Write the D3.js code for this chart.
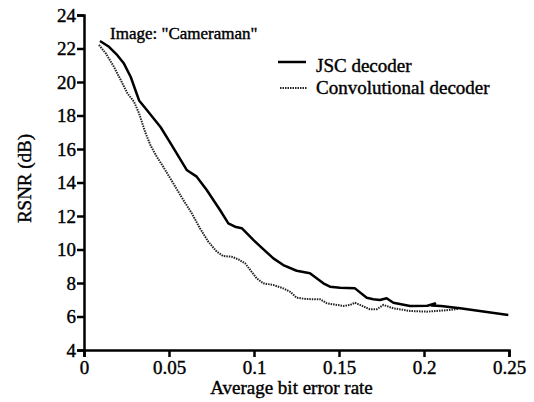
<!DOCTYPE html>
<html>
<head>
<meta charset="utf-8">
<script src="https://cdn.jsdelivr.net/npm/d3@7"></script>
<style>
  body { margin: 0; background: #fff; }
</style>
</head>
<body>
<script>
const svgWidth = 534
const svgHeight = 402

const margin = { top: 15, right: 25, bottom: 52, left: 84 }
const chartWidth = svgWidth - margin.left - margin.right
const chartHeight = svgHeight - margin.top - margin.bottom

const fontFamily = "'Liberation Serif', 'Times New Roman', serif"

// JSC decoder (solid)
const berJsc = [0.0094, 0.0147, 0.0196, 0.0235, 0.0275, 0.0310, 0.0324, 0.0372, 0.0451, 0.0506,
    0.0604, 0.0663, 0.0722, 0.0800, 0.0849, 0.0888, 0.0928, 0.0996, 0.1035, 0.1114,
    0.1172, 0.1251, 0.1329, 0.1408, 0.1447, 0.1506, 0.1594, 0.1663, 0.1702, 0.1741,
    0.1780, 0.1820, 0.1918, 0.2020, 0.2065, 0.2045, 0.2100, 0.2212, 0.2496]
const rsnrJsc = [22.45, 22.10, 21.60, 21.10, 20.30, 19.30, 18.90, 18.30, 17.30, 16.40,
    14.75, 14.35, 13.55, 12.36, 11.56, 11.36, 11.27, 10.57, 10.20, 9.47,
    9.07, 8.73, 8.58, 7.98, 7.78, 7.72, 7.68, 7.12, 7.03, 6.99,
    7.09, 6.82, 6.63, 6.64, 6.78, 6.66, 6.62, 6.49, 6.09]

// Convolutional decoder (dotted)
const berConv = [0.0088, 0.0128, 0.0176, 0.0216, 0.0255, 0.0294, 0.0324, 0.0360, 0.0392, 0.0428,
    0.0466, 0.0525, 0.0584, 0.0634, 0.0682, 0.0731, 0.0781, 0.0819, 0.0869, 0.0908,
    0.0947, 0.0986, 0.1016, 0.1055, 0.1114, 0.1172, 0.1212, 0.1251, 0.1310, 0.1388,
    0.1428, 0.1525, 0.1565, 0.1594, 0.1624, 0.1682, 0.1722, 0.1761, 0.1820, 0.1918,
    0.2016, 0.2114, 0.2200]
const rsnrConv = [22.21, 21.71, 20.91, 20.12, 19.33, 18.82, 18.13, 17.00, 16.20, 15.54,
    14.94, 13.95, 12.96, 12.16, 11.27, 10.47, 9.87, 9.61, 9.57, 9.41,
    9.18, 8.67, 8.28, 7.98, 7.88, 7.68, 7.48, 7.12, 7.04, 7.03,
    6.79, 6.63, 6.69, 6.82, 6.69, 6.43, 6.43, 6.69, 6.49, 6.33,
    6.29, 6.36, 6.45]

const xTicks = [0, 0.05, 0.1, 0.15, 0.2, 0.25]
const yTicks = [4, 6, 8, 10, 12, 14, 16, 18, 20, 22, 24]
const seriesNames = ["JSC decoder", "Convolutional decoder"]
const imageLabel = 'Image: "Cameraman"'

const svg = d3.select("body").append("svg")
    .attr("width", svgWidth)
    .attr("height", svgHeight)
    .style("font-family", fontFamily)

const chartG = svg.append("g")
    .attr("transform", `translate(${margin.left}, ${margin.top})`)

const x = d3.scaleLinear().domain([0, 0.25]).range([0, chartWidth])
const y = d3.scaleLinear().domain([4, 24]).range([chartHeight, 0])

const xAxis = d3.axisBottom(x).tickValues(xTicks).tickFormat(d3.format("")).tickSize(7).tickPadding(4)
const yAxis = d3.axisLeft(y).tickValues(yTicks).tickSize(7).tickPadding(1)

const xG = chartG.append("g")
    .attr("transform", `translate(0, ${chartHeight})`)
    .call(xAxis)
const yG = chartG.append("g").call(yAxis)

for (const g of [xG, yG]) {
    g.attr("font-family", null).attr("font-size", null)
    g.selectAll("path, line").attr("stroke", "#000").attr("stroke-width", 2.5)
    g.selectAll("text")
        .style("font-family", fontFamily)
        .style("font-size", "19px")
        .style("stroke", "#000").style("stroke-width", 0.4)
        .attr("fill", "#000")
}

const line = d3.line()
    .x(d => x(d[0]))
    .y(d => y(d[1]))

chartG.append("path")
    .attr("d", line(d3.zip(berConv, rsnrConv)))
    .attr("fill", "none")
    .attr("stroke", "#222")
    .attr("stroke-width", 2)
    .attr("stroke-dasharray", "1.5,1")

chartG.append("path")
    .attr("d", line(d3.zip(berJsc, rsnrJsc)))
    .attr("fill", "none")
    .attr("stroke", "#000")
    .attr("stroke-width", 2.5)
    .attr("stroke-linejoin", "round")

function addText(sel, size) {
    return sel.style("font-family", fontFamily)
        .style("font-size", size + "px")
        .style("fill", "#000")
        .style("stroke", "#000")
        .style("stroke-width", 0.4)
}

// annotation
addText(svg.append("text")
    .attr("x", 110)
    .attr("y", 39)
    .text(imageLabel), 17)

// legend
const legend = svg.append("g")
legend.append("line")
    .attr("x1", 278).attr("x2", 306).attr("y1", 62).attr("y2", 62)
    .attr("stroke", "#000").attr("stroke-width", 2.5)
addText(legend.append("text")
    .attr("x", 316).attr("y", 72)
    .text(seriesNames[0]), 19)
legend.append("line")
    .attr("x1", 280).attr("x2", 307).attr("y1", 88).attr("y2", 88)
    .attr("stroke", "#222").attr("stroke-width", 2)
    .attr("stroke-dasharray", "1.5,1")
addText(legend.append("text")
    .attr("x", 316).attr("y", 94)
    .text(seriesNames[1]), 19)

// axis titles
addText(svg.append("text")
    .attr("x", margin.left + chartWidth / 2 - 5)
    .attr("y", 394)
    .attr("text-anchor", "middle")
    .text("Average bit error rate"), 19)

addText(svg.append("text")
    .attr("transform", `translate(31, ${margin.top + chartHeight / 2 - 4}) rotate(-90)`)
    .attr("text-anchor", "middle")
    .text("RSNR (dB)"), 19)
</script>
</body>
</html>
